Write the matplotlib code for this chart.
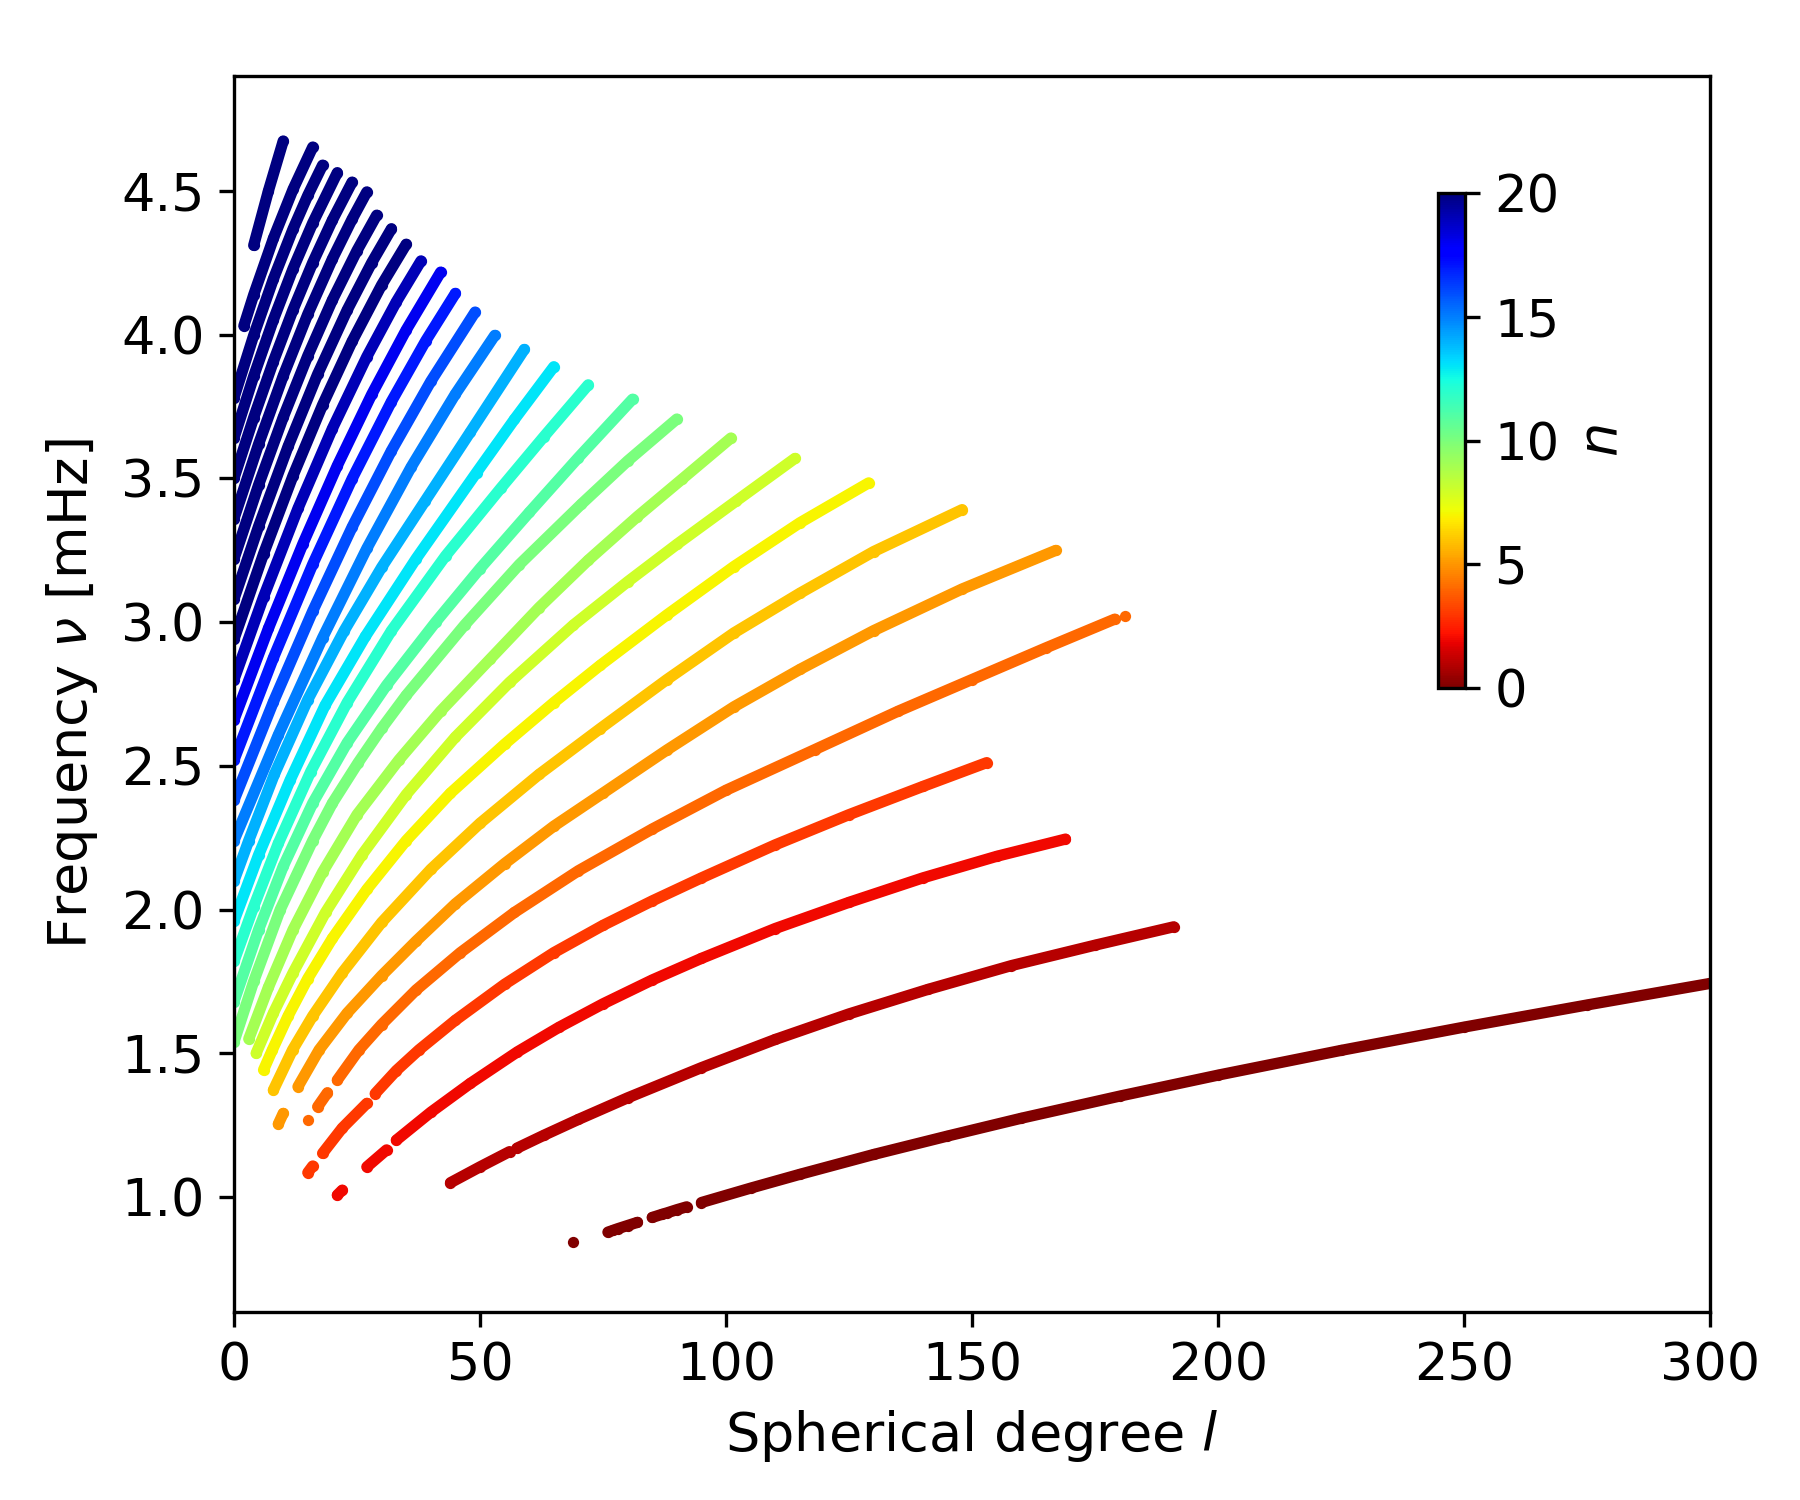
import numpy as np
import matplotlib
matplotlib.use("Agg")
import matplotlib.pyplot as plt
from matplotlib.colors import Normalize
from matplotlib.cm import ScalarMappable

# ---- data: ridges of the l-nu diagram, (spherical degree l, frequency nu [mHz]) read along each ridge
# each ridge: list of segments (l list, nu list); breaks in a ridge are separate segments
ridge_0 = [([69], [0.845]),
           ([76, 77, 78, 80, 82], [0.878, 0.884, 0.890, 0.901, 0.912]),
           ([85, 87, 88, 90, 92], [0.929, 0.940, 0.945, 0.956, 0.966]),
           ([95, 105, 115, 130, 145, 160, 180, 200, 225, 250, 275, 300, 306],
            [0.981, 1.031, 1.079, 1.148, 1.212, 1.274, 1.351, 1.424, 1.510, 1.591, 1.668, 1.743, 1.760])]
ridge_1 = [([44, 50, 56], [1.050, 1.105, 1.158]),
           ([57.5, 63, 70, 80, 95, 110, 125, 141, 158, 175, 191],
            [1.170, 1.215, 1.270, 1.345, 1.450, 1.548, 1.637, 1.722, 1.805, 1.876, 1.940])]
ridge_2 = [([21, 22], [1.007, 1.024]),
           ([27, 31], [1.105, 1.164]),
           ([33, 40, 48, 57.6, 66, 75, 85, 95, 110, 125, 140, 155, 169],
            [1.198, 1.295, 1.395, 1.505, 1.590, 1.672, 1.755, 1.830, 1.934, 2.025, 2.110, 2.185, 2.245])]
ridge_3 = [([15, 16], [1.085, 1.108]),
           ([18, 22, 27], [1.152, 1.240, 1.326]),
           ([28.7, 33, 37.6, 45, 55, 65, 75, 85, 95, 110, 125, 140, 153],
            [1.360, 1.440, 1.512, 1.615, 1.740, 1.850, 1.945, 2.030, 2.110, 2.225, 2.330, 2.428, 2.511])]
ridge_4 = [([15], [1.268]),
           ([17, 19], [1.314, 1.363]),
           ([21, 25.4, 30, 37, 46, 57, 70, 85, 100, 118, 135, 150, 165, 179],
            [1.407, 1.512, 1.600, 1.720, 1.850, 1.990, 2.135, 2.280, 2.415, 2.556, 2.690, 2.800, 2.910, 3.010]),
           ([181], [3.020])]
ridge_5 = [([9, 10], [1.254, 1.291]),
           ([13, 17.3, 23, 30, 37, 45, 55, 65, 75, 88, 101.6, 115, 130, 148, 167],
            [1.384, 1.512, 1.640, 1.770, 1.890, 2.020, 2.160, 2.290, 2.405, 2.555, 2.705, 2.835, 2.970, 3.115, 3.249])]
ridge_6 = [([8, 11.9, 16, 22, 30, 40, 50, 62, 74.4, 88, 101.6, 115, 130, 148],
            [1.372, 1.512, 1.630, 1.780, 1.955, 2.140, 2.300, 2.470, 2.629, 2.800, 2.962, 3.100, 3.245, 3.391])]
ridge_7 = [([6, 7.8, 11, 15, 20, 27, 35, 44, 55, 65, 74.4, 88, 101.6, 115, 129],
            [1.442, 1.512, 1.630, 1.760, 1.900, 2.070, 2.240, 2.405, 2.575, 2.720, 2.849, 3.025, 3.193, 3.345, 3.484])]
ridge_8 = [([4.5, 8, 12, 18.6, 26, 35, 45, 56, 69, 80, 90, 102, 114],
            [1.500, 1.640, 1.780, 1.990, 2.190, 2.400, 2.600, 2.790, 2.990, 3.140, 3.270, 3.420, 3.569])]
ridge_9 = [([3, 7, 12, 18, 25, 33.5, 42, 52, 62, 72, 82, 91, 101],
            [1.550, 1.730, 1.930, 2.130, 2.330, 2.520, 2.690, 2.870, 3.050, 3.215, 3.367, 3.496, 3.640])]
ridge_10 = [([0, 4, 9.4, 16, 20, 25.2, 30, 35, 46.9, 58, 70.6, 80, 90],
             [1.540, 1.750, 2.000, 2.240, 2.370, 2.510, 2.630, 2.745, 2.990, 3.200, 3.410, 3.560, 3.706])]
ridge_11 = [([0, 5, 10, 16, 23, 31, 41, 50, 60, 70, 81],
             [1.680, 1.930, 2.150, 2.370, 2.580, 2.780, 3.000, 3.186, 3.381, 3.572, 3.775])]
ridge_12 = [([0, 4, 9, 15.6, 23, 32, 43, 54.2, 63, 72],
             [1.820, 2.010, 2.230, 2.480, 2.720, 2.970, 3.230, 3.465, 3.645, 3.825])]
ridge_13 = [([0, 5, 11.4, 18.5, 26.7, 37, 49.3, 57, 65],
             [1.960, 2.190, 2.450, 2.710, 2.950, 3.220, 3.520, 3.705, 3.888])]
ridge_14 = [([0, 3, 8.2, 15, 22.4, 30, 38.8, 48, 59],
             [2.100, 2.240, 2.470, 2.730, 2.970, 3.190, 3.420, 3.660, 3.948])]
ridge_15 = [([0, 9, 18, 27, 36, 45, 53], [2.240, 2.607, 2.945, 3.256, 3.539, 3.793, 3.997])]
ridge_16 = [([0, 8, 16, 24, 32, 40, 49], [2.380, 2.722, 3.038, 3.330, 3.596, 3.837, 4.078])]
ridge_17 = [([0, 8, 16, 24, 32, 39, 45], [2.520, 2.875, 3.201, 3.498, 3.767, 3.979, 4.143])]
ridge_18 = [([0, 7, 14, 21, 28, 35, 42], [2.660, 2.978, 3.272, 3.544, 3.792, 4.016, 4.217])]
ridge_19 = [([0, 6, 13, 20, 27, 33, 38], [2.800, 3.087, 3.395, 3.673, 3.923, 4.114, 4.256])]
ridge_20 = [([0, 6, 12, 18, 24, 30, 35], [2.940, 3.237, 3.509, 3.755, 3.976, 4.172, 4.314])]
ridge_21 = [([0, 5, 11, 17, 23, 28, 32], [3.080, 3.333, 3.611, 3.862, 4.085, 4.250, 4.368])]
ridge_22 = [([0, 5, 10, 15, 20, 25, 29], [3.220, 3.477, 3.712, 3.926, 4.120, 4.292, 4.415])]
ridge_23 = [([0, 5, 10, 15, 20, 24, 27], [3.360, 3.619, 3.856, 4.071, 4.263, 4.401, 4.496])]
ridge_24 = [([0, 4, 8, 12, 16, 20, 24], [3.500, 3.711, 3.906, 4.086, 4.250, 4.398, 4.530])]
ridge_25 = [([0, 4, 8, 12, 16, 21], [3.640, 3.855, 4.051, 4.229, 4.388, 4.563])]
ridge_26 = [([0, 4, 8, 12, 15, 18], [3.780, 3.997, 4.193, 4.367, 4.484, 4.589])]
ridge_27 = [([2, 4, 8, 12, 16], [4.030, 4.138, 4.334, 4.505, 4.652])]
ridge_28 = [([4, 7, 10], [4.310, 4.500, 4.673])]

ridges = [ridge_0, ridge_1, ridge_2, ridge_3, ridge_4, ridge_5, ridge_6, ridge_7,
          ridge_8, ridge_9, ridge_10, ridge_11, ridge_12, ridge_13, ridge_14,
          ridge_15, ridge_16, ridge_17, ridge_18, ridge_19, ridge_20, ridge_21,
          ridge_22, ridge_23, ridge_24, ridge_25, ridge_26, ridge_27, ridge_28]
orders = list(range(len(ridges)))  # radial order n of each ridge

cbar_ticks = [0, 5, 10, 15, 20]
x_ticks = [0, 50, 100, 150, 200, 250, 300]
y_ticks = [1.0, 1.5, 2.0, 2.5, 3.0, 3.5, 4.0, 4.5]

# ---- figure
plt.rcParams['font.family'] = ['DejaVu Sans']
fig = plt.figure(figsize=(6, 5), dpi=300)
ax = fig.add_axes([0.13, 0.1253, 0.82, 0.8242])

cmap = plt.get_cmap('jet_r')
norm = Normalize(vmin=0, vmax=20)
lw = 2.7

for n, ridge in zip(orders[::-1], ridges[::-1]):
    col = cmap(norm(n))
    for ls, nus in ridge:
        ax.plot(ls, nus, '-o', color=col, lw=lw, ms=lw, mew=0,
                solid_capstyle='round', solid_joinstyle='round')

ax.set_xlim(0, 300)
ax.set_ylim(0.6, 4.9)
ax.set_xticks(x_ticks)
ax.set_yticks(y_ticks)
ax.tick_params(labelsize=12.6)
ax.set_xlabel('Spherical degree $l$', fontsize=13)
ax.set_ylabel(r'Frequency $\nu$ [mHz]', fontsize=13, labelpad=5)

cax = fig.add_axes([0.7989, 0.5413, 0.015, 0.33])
sm = ScalarMappable(norm=norm, cmap=cmap)
cb = fig.colorbar(sm, cax=cax, ticks=cbar_ticks)
cb.ax.tick_params(labelsize=12.3)
cb.set_label('$n$', fontsize=13)

fig.savefig('out.png', dpi=300)
